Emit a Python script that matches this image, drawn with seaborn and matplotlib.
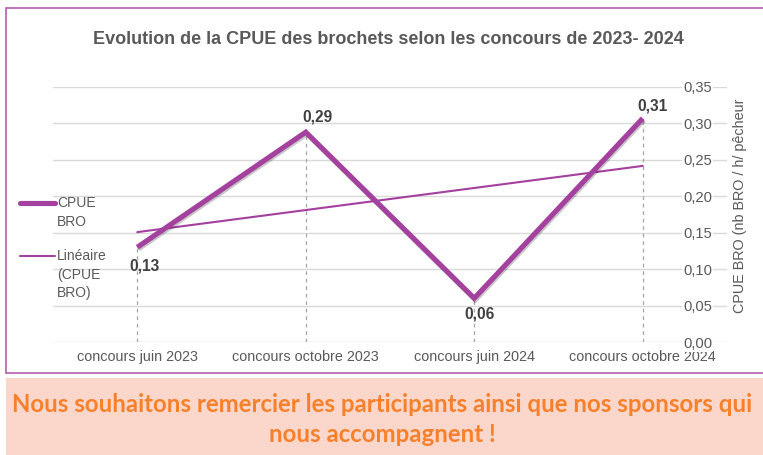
import numpy as np
import pandas as pd
import matplotlib
matplotlib.use("Agg")
import matplotlib.pyplot as plt
import seaborn as sns
from matplotlib import patheffects as pe
from matplotlib.lines import Line2D
from matplotlib.patches import Rectangle

# ---------------- data ----------------
categories = ["concours juin 2023", "concours octobre 2023",
              "concours juin 2024", "concours octobre 2024"]
cpue = [0.13, 0.288, 0.06, 0.307]
value_labels = ["0,13", "0,29", "0,06", "0,31"]
yticks = [0.00, 0.05, 0.10, 0.15, 0.20, 0.25, 0.30, 0.35]
ytick_labels = ["0,00", "0,05", "0,10", "0,15", "0,20", "0,25", "0,30", "0,35"]
title = "Evolution de la CPUE des brochets selon les concours de 2023- 2024"
ylabel = "CPUE BRO (nb BRO / h/ pêcheur"
legend_labels = ["CPUE\nBRO", "Linéaire\n(CPUE\nBRO)"]
banner_lines = ["Nous souhaitons remercier les participants ainsi que nos sponsors qui",
                "nous accompagnent !"]

# ---------------- style ----------------
PURPLE = "#a4409e"
GRAY_TXT = "#595959"
DARK_TXT = "#404040"
GRID = "#d9d9d9"
label_offsets = [(7, -19), (12, 15), (5, -16), (10, 12)]  # pixels

sns.set_theme(style="white")
plt.rcParams["font.family"] = ["Liberation Sans", "DejaVu Sans"]

W, H = 763, 455
fig = plt.figure(figsize=(W / 100, H / 100), dpi=100)
fig.patch.set_facecolor("white")

# frame and banner
fig.add_artist(Rectangle((6 / W, 1 - 373 / H), 1.0, (373 - 8) / H,
                         transform=fig.transFigure, facecolor="white",
                         edgecolor="#b35fab", lw=1.2, zorder=0))
fig.add_artist(Rectangle((6 / W, 0), 1.0, (455 - 378) / H,
                         transform=fig.transFigure, facecolor="#fad6cb",
                         edgecolor="none", zorder=0))

ax = fig.add_axes([53 / W, 1 - 342 / H, (727 - 53) / W, (342 - 87) / H])
ax.set_facecolor("none")

pos = np.arange(len(categories))
df = pd.DataFrame({"pos": pos, "cpue": cpue})
coef = np.polyfit(pos, cpue, 1)
df["trend"] = np.polyval(coef, pos)

# drop lines
ax.vlines(df["pos"], 0, df["cpue"], colors="#a6a6a6",
          linestyles=(0, (3, 3)), lw=0.9, zorder=1)

sns.lineplot(data=df, x="pos", y="trend", ax=ax, color=PURPLE, lw=1.5,
             zorder=2, legend=False)
sns.lineplot(data=df, x="pos", y="cpue", ax=ax, color=PURPLE, lw=3.7,
             solid_joinstyle="miter", solid_capstyle="butt", zorder=3,
             legend=False,
             path_effects=[pe.SimpleLineShadow(offset=(0.8, -1.2),
                                               shadow_color="black", alpha=0.22),
                           pe.Normal()])

for (x, y), lab, off in zip(zip(pos, cpue), value_labels, label_offsets):
    ax.annotate(lab, (x, y), xytext=off, textcoords="offset pixels",
                ha="center", va="center", fontsize=11.2, weight="bold",
                color=DARK_TXT, zorder=5)

ax.set_xlim(-0.5, 3.5)
ax.set_ylim(0, 0.35)
ax.set_yticks(yticks)
ax.set_yticklabels(ytick_labels)
ax.yaxis.tick_right()
ax.yaxis.grid(True, color=GRID, lw=1.0)
ax.xaxis.grid(False)
ax.set_axisbelow(True)
for s in ax.spines.values():
    s.set_visible(False)
ax.tick_params(axis="y", length=0, pad=-44 * 0.72, labelsize=10.6,
               labelcolor=GRAY_TXT)
for t in ax.get_yticklabels():
    t.set_bbox(dict(facecolor="white", edgecolor="none", pad=1.0))
ax.set_xticks(pos)
ax.set_xticklabels(categories)
ax.tick_params(axis="x", length=0, pad=6, labelsize=10.4, labelcolor=GRAY_TXT)
ax.set_xlabel("")
ax.set_ylabel("")

# titles
fig.text(388.5 / W, 1 - 39 / H, title, ha="center", va="center",
         fontsize=13.0, weight="bold", color=GRAY_TXT)
fig.text(740 / W, 1 - 206 / H, ylabel, rotation=90, ha="center", va="center",
         fontsize=10.4, color=GRAY_TXT)

# legend (manual layout to match the original)
leg_y = [203, 256]
leg_lw = [3.7, 1.5]
for ly, lw, lab in zip(leg_y, leg_lw, legend_labels):
    fig.add_artist(Line2D([20 / W, 55 / W], [1 - ly / H] * 2,
                          transform=fig.transFigure, color=PURPLE, lw=lw))
    for i, part in enumerate(lab.split("\n")):
        fig.text(57 / W, 1 - (ly + i * 18.5) / H, part, ha="left", va="center",
                 fontsize=10, color=GRAY_TXT)

# banner text
banner_y = [405, 434]
for by, line in zip(banner_y, banner_lines):
    fig.text(382 / W, 1 - by / H, line, ha="center", va="center",
             fontsize=17.3, weight="bold", color="#f7812b",
             family=["Lato", "DejaVu Sans"])

fig.savefig("out.png", dpi=100)
